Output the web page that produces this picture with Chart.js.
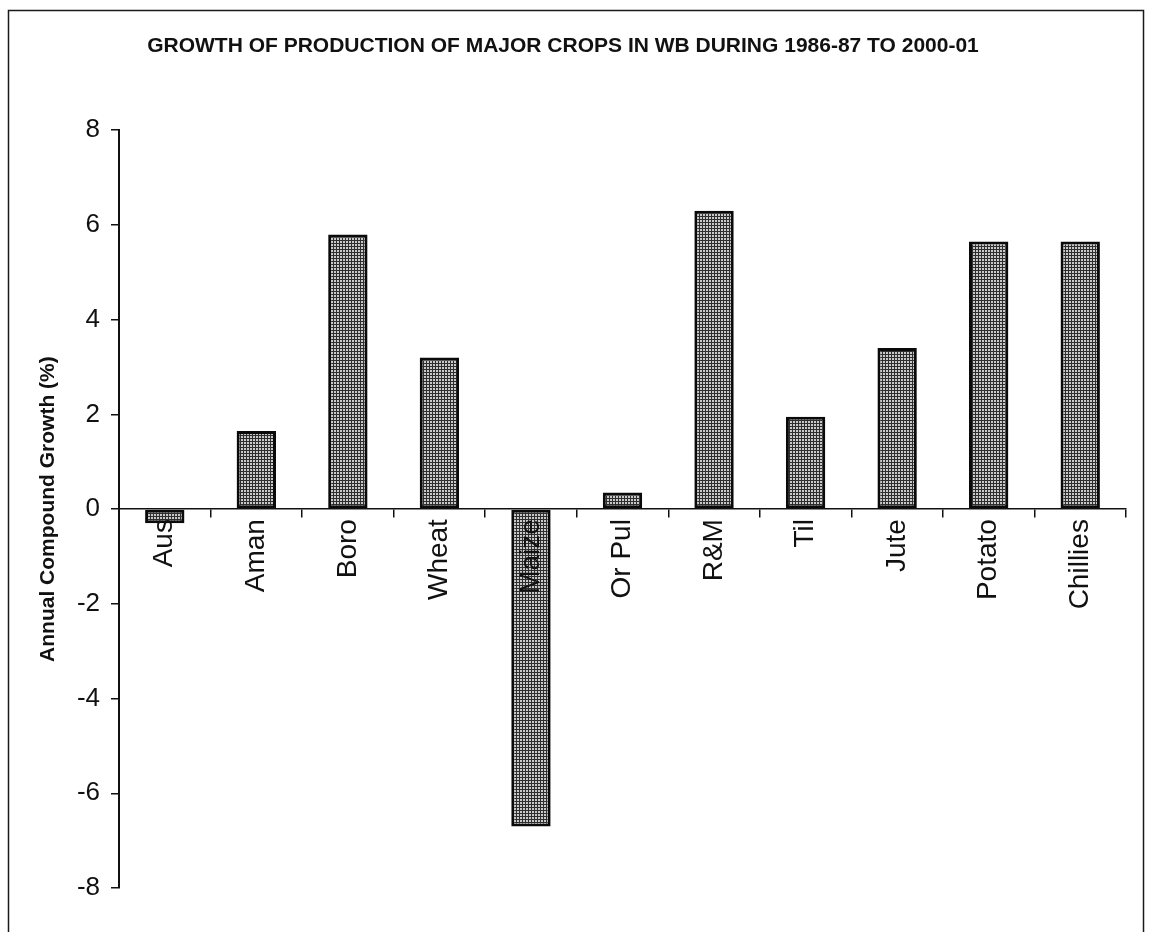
<!DOCTYPE html>
<html>
<head>
<meta charset="utf-8">
<title>Growth of production of major crops in WB</title>
<script src="https://cdn.jsdelivr.net/npm/chart.js@4/dist/chart.umd.min.js"></script>
<style>
  html, body { margin: 0; padding: 0; background: #fff; }
  #wrap { width: 1150px; height: 932px; }
</style>
</head>
<body>
<div id="wrap"><canvas id="chart" width="1150" height="932"></canvas></div>
<script>
// Crops and their annual compound growth of production (%), 1986-87 to 2000-01
const crops = ['Aus', 'Aman', 'Boro', 'Wheat', 'Maize', 'Or Pul', 'R&M', 'Til', 'Jute', 'Potato', 'Chillies'];
const growth = [-0.3, 1.65, 5.8, 3.2, -6.7, 0.35, 6.3, 1.95, 3.4, 5.65, 5.65];

// Value axis range and tick step
const yMin = -8;
const yMax = 8;
const yStep = 2;

const chartTitle = 'GROWTH OF PRODUCTION OF MAJOR CROPS IN WB DURING 1986-87 TO 2000-01';
const yTitle = 'Annual Compound Growth (%)';

const FONT = '"Liberation Sans", Arial, Helvetica, sans-serif';

// Fine stippled grey fill for the bars
function makeStipple() {
  const c = document.createElement('canvas');
  c.width = 3; c.height = 3;
  const g = c.getContext('2d');
  g.fillStyle = '#2e2e2e';
  g.fillRect(0, 0, 3, 3);
  g.fillStyle = '#c9c9c9';
  g.fillRect(1, 1, 2, 2);
  return g.createPattern(c, 'repeat');
}

// Outer frame around the whole chart
const framePlugin = {
  id: 'frame',
  afterDraw(chart) {
    const ctx = chart.ctx;
    ctx.save();
    ctx.strokeStyle = '#1a1a1a';
    ctx.lineWidth = 1.5;
    ctx.strokeRect(8.5, 10.5, 1135, 1000);
    ctx.restore();
  }
};

const ctx = document.getElementById('chart').getContext('2d');
new Chart(ctx, {
  type: 'bar',
  data: {
    labels: crops,
    datasets: [{
      data: growth,
      backgroundColor: makeStipple(),
      borderColor: '#0a0a0a',
      borderWidth: 3,
      borderSkipped: false,
      categoryPercentage: 1,
      barPercentage: 0.43
    }]
  },
  options: {
    responsive: false,
    animation: false,
    devicePixelRatio: 1,
    layout: { padding: { left: 0, right: 24, top: 0, bottom: 44 } },
    plugins: {
      legend: { display: false },
      tooltip: { enabled: false },
      title: {
        display: true,
        text: chartTitle,
        color: '#111',
        font: { family: FONT, size: 21, weight: 'bold' },
        padding: { top: 34, bottom: 71 }
      }
    },
    scales: {
      x: {
        position: { y: 0 },
        offset: true,
        border: { display: true, color: '#111', width: 1.5, z: 1 },
        grid: {
          offset: true,
          drawOnChartArea: false,
          drawTicks: true,
          tickLength: 8,
          color: '#111',
          lineWidth: 1.5,
          z: 1
        },
        ticks: {
          autoSkip: false,
          maxRotation: 90,
          minRotation: 90,
          padding: 2,
          color: '#111',
          z: 1,
          font: { family: FONT, size: 28 }
        }
      },
      y: {
        min: yMin,
        max: yMax,
        border: { display: true, color: '#111', width: 2 },
        grid: {
          drawOnChartArea: false,
          drawTicks: true,
          tickLength: 8,
          color: '#111',
          lineWidth: 1.5
        },
        ticks: {
          stepSize: yStep,
          padding: 11,
          color: '#111',
          font: { family: FONT, size: 26 }
        },
        title: {
          display: true,
          text: yTitle,
          color: '#111',
          font: { family: FONT, size: 21, weight: 'bold' },
          padding: { top: 36, bottom: 0 }
        },
        afterFit(scale) { scale.width = 119; }
      }
    }
  },
  plugins: [framePlugin]
});
</script>
</body>
</html>
